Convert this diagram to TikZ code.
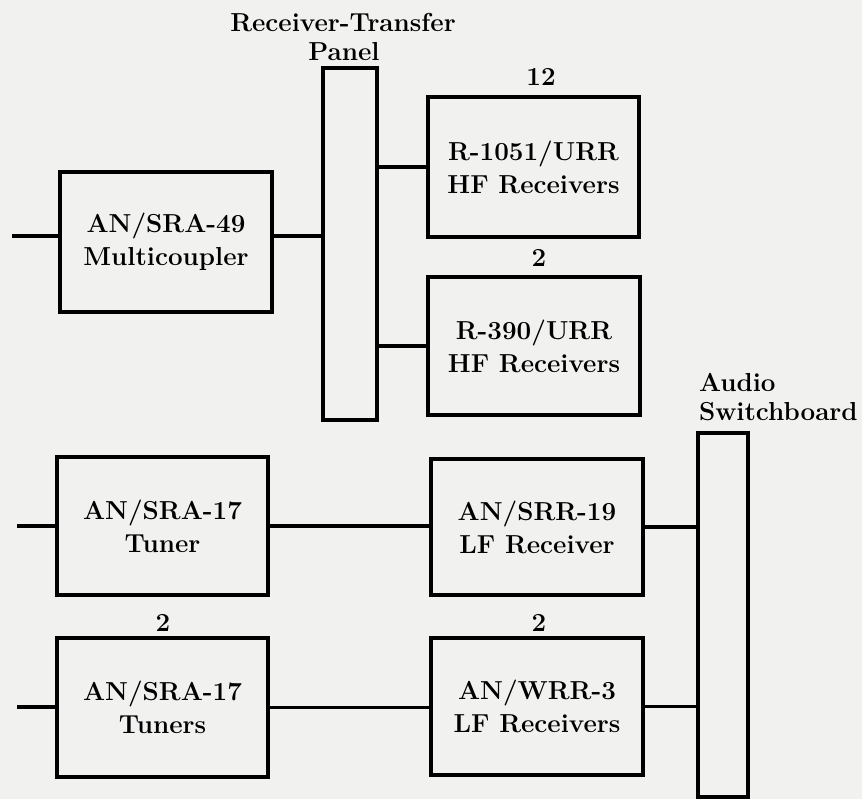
\documentclass[tikz,border=0pt]{standalone}
\usetikzlibrary{calc}
\definecolor{paper}{RGB}{241,241,240}
\begin{document}
\begin{tikzpicture}[x=0.5pt,y=-0.5pt,
  every node/.style={inner sep=0pt,outer sep=0pt},
  txt/.style={font=\bfseries\fontsize{13}{16.5}\selectfont,align=center},
  unit/.style={draw,line width=2pt,txt},
  wire/.style={line width=1.6pt}]
\fill[paper] (0,0) rectangle (862,799);
\useasboundingbox (0,0) rectangle (862,799);
% boxes
\node[unit,minimum width=106pt,minimum height=70pt] (mc) at (166,242) {AN/SRA-49\\Multicoupler};
\node[unit,minimum width=27pt,minimum height=176pt] (rt) at (350,244) {};
\node[unit,minimum width=105.5pt,minimum height=70pt] (r1051) at (533.5,167) {R-1051/URR\\HF Receivers};
\node[unit,minimum width=106pt,minimum height=69pt] (r390) at (534,346) {R-390/URR\\HF Receivers};
\node[unit,minimum width=105.5pt,minimum height=69pt] (tun) at (162.5,526) {AN/SRA-17\\Tuner};
\node[unit,minimum width=105.5pt,minimum height=69.5pt] (tuns) at (162.5,707.5) {AN/SRA-17\\Tuners};
\node[unit,minimum width=106pt,minimum height=68pt] (srr) at (537,527) {AN/SRR-19\\LF Receiver};
\node[unit,minimum width=106pt,minimum height=68.5pt] (wrr) at (537,706.5) {AN/WRR-3\\LF Receivers};
\node[unit,minimum width=25pt,minimum height=182pt] (sb) at (723,615) {};
% labels
\node[txt] (lrt1) at (343,23) {Receiver-Transfer};
\node[txt] (lrt2) at (344,52) {Panel};
\node[txt] (l12) at (541,77) {12};
\node[txt] (l2a) at (539,258) {2};
\node[txt] (l2b) at (163,623) {2};
\node[txt] (l2c) at (539,623) {2};
\node[txt,anchor=west] (lsb1) at (699,382) {Audio};
\node[txt,anchor=west] (lsb2) at (699,412) {Switchboard};
% free ends
\coordinate (in1) at (12,236);
\coordinate (in2) at (17,526);
\coordinate (in3) at (17,707);
% connectors
\draw[wire] (in1) -- (in1 -| mc.west);
\draw[wire] (mc.east |- in1) -- (rt.west |- in1);
\draw[wire] (rt.east |- r1051.west) -- (r1051.west);
\draw[wire] (rt.east |- r390.west) -- (r390.west);
\draw[wire] (in2) -- (in2 -| tun.west);
\draw[wire] (tun.east) -- (tun.east -| srr.west);
\draw[wire] (srr.east) -- (srr.east -| sb.west);
\draw[wire] (in3) -- (in3 -| tuns.west);
\draw[wire] (tuns.east) -- (tuns.east -| wrr.west);
\draw[wire] (wrr.east) -- (wrr.east -| sb.west);
\end{tikzpicture}
\end{document}
